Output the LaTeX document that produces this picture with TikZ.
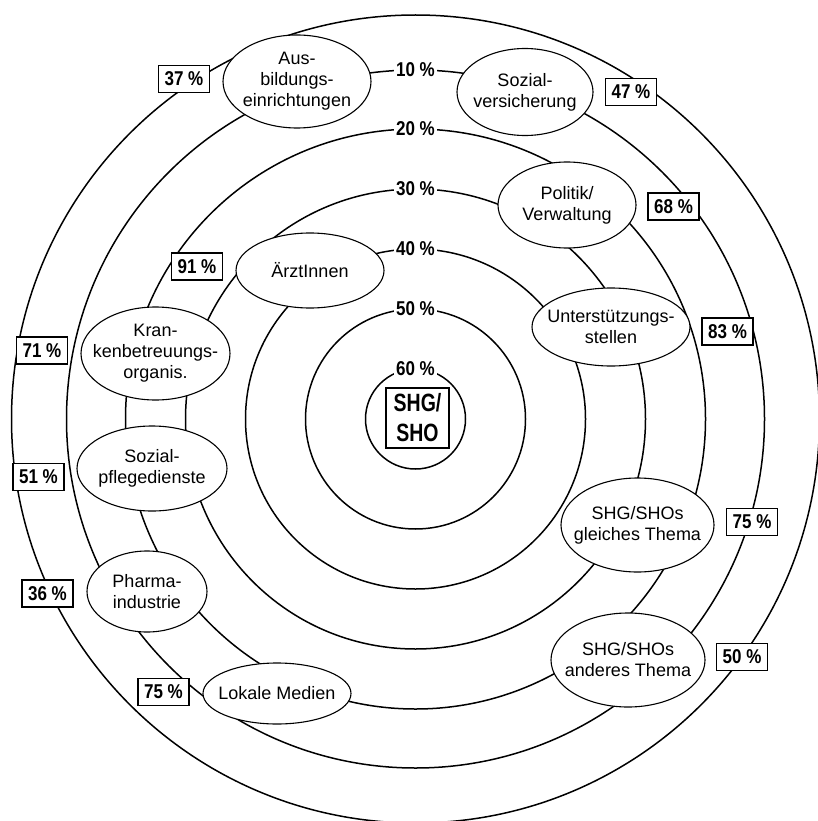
\documentclass[tikz,border=0pt]{standalone}
\usepackage{fontspec}
\setmainfont{Liberation Sans}
\newfontfamily\pctfont[FakeStretch=0.85]{Liberation Sans}
\newfontfamily\shgfont[FakeStretch=0.78]{Liberation Sans}
\usetikzlibrary{shapes.geometric}
\begin{document}
\begin{tikzpicture}[x=1pt,y=-1pt,
  ring/.style={line width=1.5pt},
  ringlabel/.style={fill=white, inner xsep=2.5pt, inner ysep=1pt, font=\pctfont\bfseries\fontsize{20}{22}\selectfont},
  org/.style={ellipse, draw, line width=1.1pt, fill=white, inner sep=0pt},
  orgtext/.style={align=center, font=\fontsize{18}{21}\selectfont, inner sep=0pt},
  pct/.style={draw, line width=1.2pt, fill=white, inner sep=0pt, minimum width=51pt, minimum height=27pt, font=\pctfont\bfseries\fontsize{20}{22}\selectfont},
  shgbox/.style={draw, line width=2pt, fill=white, inner sep=0pt, minimum width=63pt, minimum height=60pt, align=center, font=\shgfont\bfseries\fontsize{25}{30}\selectfont}
]
\useasboundingbox[fill=white] (0,0) rectangle (818,821);
\coordinate (c) at (415.5,419);
% rings
\foreach \r in {50,110,170,230,290,349,404}
  \draw[ring] (c) circle [radius=\r];
% ring labels
\node[ringlabel] (l10) at (415.5,70) {10 \%};
\node[ringlabel] (l20) at (415.5,129) {20 \%};
\node[ringlabel] (l30) at (415.5,189) {30 \%};
\node[ringlabel] (l40) at (415.5,249) {40 \%};
\node[ringlabel] (l50) at (415.5,309) {50 \%};
\node[ringlabel] (l60) at (415.5,369) {60 \%};
% organisations
\node[org, minimum width=148pt, minimum height=93pt, label={[orgtext]center:{Aus-\\bildungs-\\einrichtungen}}] (aus) at (297,81.5) {};
\node[org, minimum width=136pt, minimum height=87pt, label={[orgtext]center:{Sozial-\\versicherung}}] (sozv) at (525,92) {};
\node[org, minimum width=138pt, minimum height=86pt, label={[orgtext]center:{Politik/\\Verwaltung}}] (pol) at (567,205) {};
\node[org, minimum width=158pt, minimum height=78pt, label={[orgtext]center:{Unterstützungs-\\stellen}}] (unt) at (611,327) {};
\node[org, minimum width=148pt, minimum height=75pt, label={[orgtext]center:{ÄrztInnen}}] (arzt) at (310,270.5) {};
\node[org, minimum width=149pt, minimum height=93pt, label={[orgtext]center:{Kran-\\kenbetreuungs-\\organis.}}] (kran) at (155.5,353.5) {};
\node[org, minimum width=150pt, minimum height=85pt, label={[orgtext]center:{Sozial-\\pflegedienste}}] (sozp) at (152,468.5) {};
\node[org, minimum width=120pt, minimum height=81pt, label={[orgtext]center:{Pharma-\\industrie}}] (pharma) at (147,591.5) {};
\node[org, minimum width=148pt, minimum height=61pt, label={[orgtext]center:{Lokale Medien}}] (medien) at (277,693.5) {};
\node[org, minimum width=153pt, minimum height=94pt, label={[orgtext]center:{SHG/SHOs\\gleiches Thema}}] (gleich) at (637.5,525) {};
\node[org, minimum width=154pt, minimum height=94pt, label={[orgtext]center:{SHG/SHOs\\anderes Thema}}] (ander) at (628,660) {};
% percentage boxes
\node[pct] (p37) at (184,79) {37 \%};
\node[pct] (p47) at (631,92) {47 \%};
\node[pct] (p68) at (673.5,206.5) {68 \%};
\node[pct] (p83) at (727.5,331.5) {83 \%};
\node[pct] (p91) at (197,266.5) {91 \%};
\node[pct] (p71) at (42,350.5) {71 \%};
\node[pct] (p51) at (38.5,477) {51 \%};
\node[pct] (p36) at (47.5,593.5) {36 \%};
\node[pct] (p75a) at (163.5,692) {75 \%};
\node[pct] (p75b) at (752,522) {75 \%};
\node[pct] (p50) at (742,657) {50 \%};
% centre
\node[shgbox] (shg) at (417.5,418) {SHG/\\SHO};
\end{tikzpicture}
\end{document}
